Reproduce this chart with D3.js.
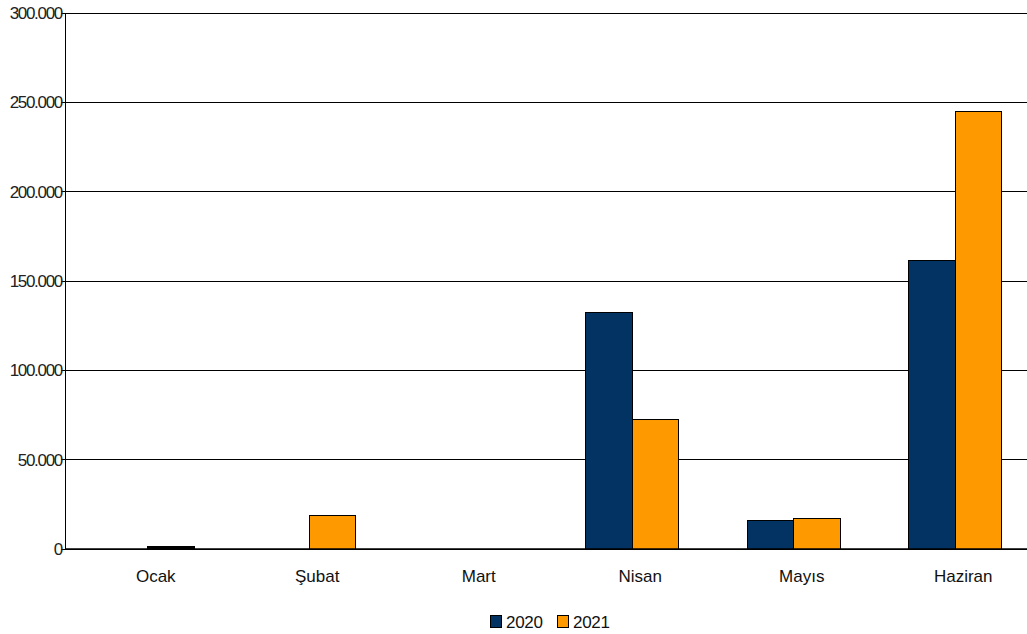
<!DOCTYPE html>
<html><head><meta charset="utf-8">
<script src="https://cdn.jsdelivr.net/npm/d3@7"></script>
<style>body{margin:0;background:#fff}svg{display:block;font-family:"Liberation Sans",Arial,sans-serif}</style>
</head><body><svg id="c" width="1027" height="634"></svg>
<script>
const categories = ["Ocak","Şubat","Mart","Nisan","Mayıs","Haziran"];
const seriesNames = ["2020","2021"];
const values2020 = [0, 0, 0, 132500, 15800, 161500];
const values2021 = [1500, 18900, 0, 72300, 17300, 245000];
const yTicks = [0,50000,100000,150000,200000,250000,300000];
const colors = ["#023363","#ff9900"];

const svg = d3.select("#c");
const m = {l:65, r:1027, t:13, b:549};
const x = d3.scaleBand().domain(categories).range([67, 1036]).paddingInner(0).paddingOuter(0);
const y = d3.scaleLinear().domain([0,300000]).range([m.b, m.t]);
const fmt = v => v===0 ? "0" : d3.format(",")(v).replace(/,/g,".");

// grid
svg.append("g").selectAll("line").data(yTicks).join("line")
  .attr("x1", m.l-4).attr("x2", m.r).attr("y1", d=>y(d)).attr("y2", d=>y(d))
  .attr("stroke","#000").attr("stroke-width",1).attr("shape-rendering","crispEdges");
svg.append("g").selectAll("text").data(yTicks).join("text")
  .attr("x", m.l-3).attr("y", d=>y(d)).attr("dy","0.36em").attr("text-anchor","end")
  .attr("font-size",17).attr("fill","#222").attr("letter-spacing","-1.3")
  .text(fmt);
svg.append("line").attr("x1",m.l).attr("x2",m.l).attr("y1",m.t).attr("y2",m.b)
  .attr("stroke","#000").attr("shape-rendering","crispEdges");

const bw = x.bandwidth()*0.288;
const data = [values2020, values2021];
data.forEach((vals, si) => {
  svg.append("g").selectAll("rect").data(categories.map((c,i)=>({c, v: vals[i]})).filter(d=>d.v>0)).join("rect")
    .attr("x", d => x(d.c) + x.bandwidth()/2 + (si-1)*bw)
    .attr("width", bw)
    .attr("y", d => y(d.v))
    .attr("height", d => y(0)-y(d.v))
    .attr("fill", d => (y(0)-y(d.v)) < 3 ? "#000" : colors[si])
    .attr("stroke","#000").attr("stroke-width",1)
    .attr("shape-rendering","crispEdges");
});
// baseline redraw
svg.append("line").attr("x1",m.l).attr("x2",m.r).attr("y1",y(0)).attr("y2",y(0))
  .attr("stroke","#000").attr("stroke-width",1.5);

svg.append("g").selectAll("text").data(categories).join("text")
  .attr("x", d => x(d)+x.bandwidth()/2 + 8).attr("y", 582)
  .attr("text-anchor","middle").attr("font-size",17).attr("fill","#111").text(d=>d);

// legend
const lg = svg.append("g");
const lx = [490, 557];
seriesNames.forEach((s,i)=>{
  lg.append("rect").attr("x",lx[i]+0.5).attr("y",615.5).attr("width",11).attr("height",12)
    .attr("fill",colors[i]).attr("stroke","#000");
  lg.append("text").attr("x",lx[i]+16).attr("y",628).attr("font-size",17).attr("fill","#111")
    .attr("letter-spacing","-0.3").text(s);
});
</script></body></html>
